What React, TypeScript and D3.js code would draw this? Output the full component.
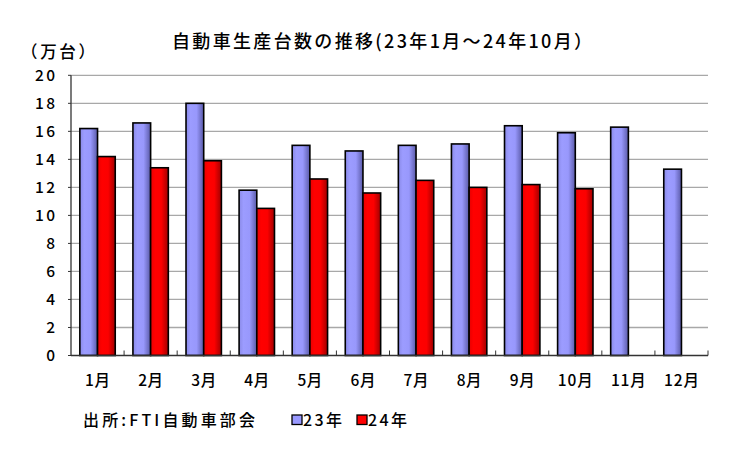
import React from "react";
import * as d3 from "d3";

const months = ["1月", "2月", "3月", "4月", "5月", "6月", "7月", "8月", "9月", "10月", "11月", "12月"];
const y2023 = [16.2, 16.6, 18.0, 11.8, 15.0, 14.6, 15.0, 15.1, 16.4, 15.9, 16.3, 13.3];
const y2024: (number | null)[] = [14.2, 13.4, 13.9, 10.5, 12.6, 11.6, 12.5, 12.0, 12.2, 11.9, null, null];
const yTicks = [0, 2, 4, 6, 8, 10, 12, 14, 16, 18, 20];
const seriesNames = ["23年", "24年"];
const title = "自動車生産台数の推移(23年1月～24年10月）";
const unit = "（万台）";
const source = "出所:FTI自動車部会";

const W = 750, H = 453;
const left = 71, right = 708, top = 75.3, bottom = 355.5;
const font = "'Noto Sans CJK JP', 'Noto Sans', sans-serif";

export default function App() {
  const x = d3.scaleBand<string>().domain(months).range([left, right]).paddingInner(0).paddingOuter(0);
  const y = d3.scaleLinear().domain([0, 20]).range([bottom, top]);
  const bw = x.bandwidth() / 3;
  const series = [y2023, y2024];
  const fills = ["url(#gBlue)", "url(#gRed)"];
  const legendFills = ["#9999ff", "#ff0000"];
  return (
    <svg width={W} height={H} style={{ display: "block", position: "absolute", left: 0, top: 0 }} fontFamily={font} fontWeight={500}>
      <defs>
        <linearGradient id="gBlue" x1="0" x2="1" y1="0" y2="0">
          <stop offset="0" stopColor="#8a8ae8" />
          <stop offset="0.25" stopColor="#9c9cff" />
          <stop offset="0.6" stopColor="#9898fc" />
          <stop offset="1" stopColor="#5a5aa8" />
        </linearGradient>
        <linearGradient id="gRed" x1="0" x2="1" y1="0" y2="0">
          <stop offset="0" stopColor="#e80000" />
          <stop offset="0.25" stopColor="#ff0000" />
          <stop offset="0.6" stopColor="#fc0000" />
          <stop offset="1" stopColor="#a00000" />
        </linearGradient>
      </defs>
      <rect width={W} height={H} fill="#fff" />
      <text x={172} y={48} fontSize={18} fill="#000" textLength={420} lengthAdjust="spacing">{title}</text>
      <text x={21} y={58} fontSize={16.5} fill="#000" textLength={74} lengthAdjust="spacing">{unit}</text>
      {yTicks.filter(t => t > 0).map(t => (
        <line key={"g" + t} x1={left} x2={right} y1={y(t)} y2={y(t)} stroke="#a8a8a8" strokeWidth={1.3} />
      ))}
      {yTicks.map(t => (
        <g key={"yt" + t}>
          <line x1={left - 3} x2={left} y1={y(t)} y2={y(t)} stroke="#333" strokeWidth={1} />
          <text x={55} y={y(t)} dy="0.36em" textAnchor="end" fontSize={15.5} fill="#000"
            textLength={String(t).length > 1 ? 20 : undefined} lengthAdjust="spacing">{t}</text>
        </g>
      ))}
      {series.map((s, si) =>
        s.map((v, i) => v == null ? null : (
          <rect key={si + "-" + i}
            x={(x(months[i]) as number) + bw / 2 + si * bw}
            y={y(v)} width={bw} height={bottom - y(v)}
            fill={fills[si]} stroke="#000" strokeWidth={1.6} />
        ))
      )}
      <line x1={left} x2={left} y1={top} y2={bottom} stroke="#333" strokeWidth={1.3} />
      <line x1={left} x2={right} y1={bottom} y2={bottom} stroke="#333" strokeWidth={1.5} />
      {months.map((m, i) => (
        <line key={"xt" + i} x1={(x(m) as number) + x.bandwidth()} x2={(x(m) as number) + x.bandwidth()} y1={bottom} y2={bottom - 5} stroke="#333" strokeWidth={1} />
      ))}
      {months.map(m => (
        <text key={"xl" + m} x={(x(m) as number) + x.bandwidth() / 2} y={380} dy="0.36em" textAnchor="middle" fontSize={15.5} fill="#000"
          textLength={m.length > 2 ? 35 : 25} lengthAdjust="spacing">{m}</text>
      ))}
      <text x={83} y={420} dy="0.36em" fontSize={16} fill="#000" textLength={172} lengthAdjust="spacing">{source}</text>
      {seriesNames.map((n, i) => (
        <g key={n} transform={`translate(${292 + i * 65},0)`}>
          <rect x={0} y={415} width={10} height={9.5} fill={legendFills[i]} stroke="#000" strokeWidth={1.3} />
          <text x={11} y={420} dy="0.36em" fontSize={16} fill="#000" textLength={39} lengthAdjust="spacing">{n}</text>
        </g>
      ))}
    </svg>
  );
}
